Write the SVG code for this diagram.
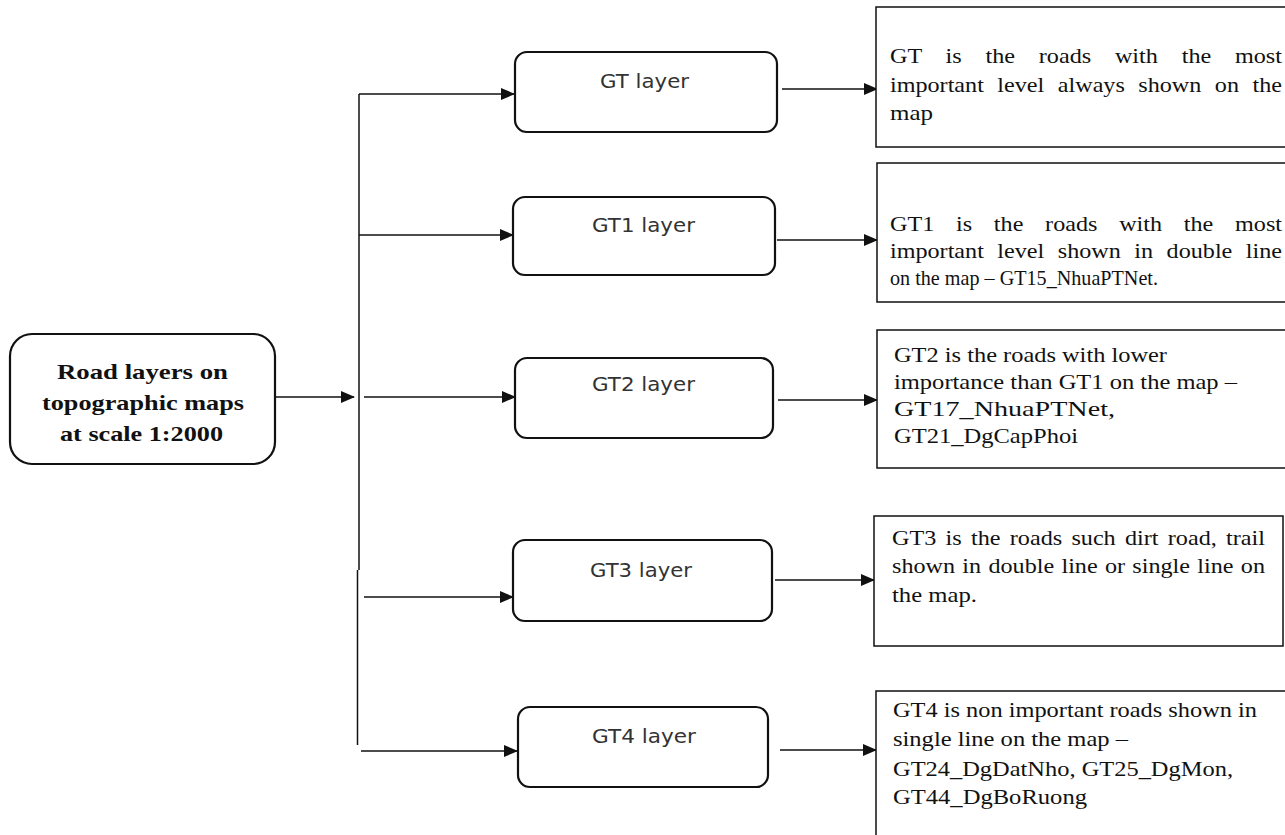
<svg xmlns="http://www.w3.org/2000/svg" width="1285" height="835" viewBox="0 0 1285 835">
<style>
.layer{fill:#fff;stroke:#111;stroke-width:2.2}
.desc{fill:#fff;stroke:#111;stroke-width:1.5}
.conn{stroke:#111;stroke-width:1.5;fill:none}
.lt{font-family:"DejaVu Sans",Verdana,sans-serif;font-size:19px;fill:#333}
.st{font-family:"Liberation Serif","Times New Roman",serif;font-size:21px;fill:#111}
.mt{font-family:"Liberation Serif","Times New Roman",serif;font-size:21px;font-weight:bold;fill:#111}
</style>
<defs>
<marker id="ah" markerUnits="userSpaceOnUse" markerWidth="14" markerHeight="12" refX="13" refY="6" orient="auto">
<path d="M0,0 L14,6 L0,12 Z" fill="#111"/>
</marker>
</defs>
<rect width="1285" height="835" fill="#fff"/>
<g id="connectors">
<line class="conn" x1="275" y1="397" x2="354" y2="397" marker-end="url(#ah)"/>
<line class="conn" x1="359" y1="94" x2="359" y2="570"/>
<line class="conn" x1="357.5" y1="570" x2="357.5" y2="745"/>
<line class="conn" x1="359" y1="94" x2="514" y2="94" marker-end="url(#ah)"/>
<line class="conn" x1="359" y1="235" x2="513" y2="235" marker-end="url(#ah)"/>
<line class="conn" x1="364" y1="397" x2="515" y2="397" marker-end="url(#ah)"/>
<line class="conn" x1="364" y1="597" x2="513" y2="597" marker-end="url(#ah)"/>
<line class="conn" x1="361" y1="751" x2="517" y2="751" marker-end="url(#ah)"/>
<line class="conn" x1="782" y1="89" x2="877" y2="89" marker-end="url(#ah)"/>
<line class="conn" x1="777" y1="240" x2="877" y2="240" marker-end="url(#ah)"/>
<line class="conn" x1="778" y1="400" x2="877" y2="400" marker-end="url(#ah)"/>
<line class="conn" x1="775" y1="580" x2="874" y2="580" marker-end="url(#ah)"/>
<line class="conn" x1="780" y1="750" x2="876" y2="750" marker-end="url(#ah)"/>
</g>
<g id="root">
<rect class="layer" x="10" y="334" width="265" height="130" rx="22"/>
<text class="mt" x="57" y="379" textLength="171" lengthAdjust="spacingAndGlyphs">Road layers on</text>
<text class="mt" x="42" y="410" textLength="202" lengthAdjust="spacingAndGlyphs">topographic maps</text>
<text class="mt" x="60" y="441" textLength="163" lengthAdjust="spacingAndGlyphs">at scale 1:2000</text>
</g>
<g id="gt-layer">
<rect class="layer" x="515" y="52" width="262" height="80" rx="12"/>
<text class="lt" x="600" y="88" textLength="89" lengthAdjust="spacingAndGlyphs">GT layer</text>
</g>
<g id="gt1-layer">
<rect class="layer" x="513" y="197" width="262" height="78" rx="12"/>
<text class="lt" x="592" y="232" textLength="103" lengthAdjust="spacingAndGlyphs">GT1 layer</text>
</g>
<g id="gt2-layer">
<rect class="layer" x="515" y="358" width="258" height="80" rx="12"/>
<text class="lt" x="592" y="391" textLength="103" lengthAdjust="spacingAndGlyphs">GT2 layer</text>
</g>
<g id="gt3-layer">
<rect class="layer" x="513" y="540" width="259" height="81" rx="12"/>
<text class="lt" x="590" y="577" textLength="102" lengthAdjust="spacingAndGlyphs">GT3 layer</text>
</g>
<g id="gt4-layer">
<rect class="layer" x="518" y="707" width="250" height="80" rx="12"/>
<text class="lt" x="592" y="743" textLength="104" lengthAdjust="spacingAndGlyphs">GT4 layer</text>
</g>
<g id="gt-desc">
<rect class="desc" x="876" y="7" width="420" height="140"/>
<text class="st" x="890" y="63" textLength="392" lengthAdjust="spacingAndGlyphs" word-spacing="15.4">GT is the roads with the most</text>
<text class="st" x="890" y="92" textLength="392" lengthAdjust="spacingAndGlyphs" word-spacing="6.5">important level always shown on the</text>
<text class="st" x="890" y="120" textLength="43" lengthAdjust="spacingAndGlyphs">map</text>
</g>
<g id="gt1-desc">
<rect class="desc" x="877" y="163" width="420" height="139"/>
<text class="st" x="890" y="231" textLength="392" lengthAdjust="spacingAndGlyphs" word-spacing="13.7">GT1 is the roads with the most</text>
<text class="st" x="890" y="258" textLength="392" lengthAdjust="spacingAndGlyphs" word-spacing="6.5">important level shown in double line</text>
<text class="st" x="890" y="285" textLength="268" lengthAdjust="spacingAndGlyphs">on the map – GT15_NhuaPTNet.</text>
</g>
<g id="gt2-desc">
<rect class="desc" x="877" y="330" width="420" height="138"/>
<text class="st" x="894" y="362" textLength="273" lengthAdjust="spacingAndGlyphs">GT2 is the roads with lower</text>
<text class="st" x="894" y="389" textLength="343" lengthAdjust="spacingAndGlyphs">importance than GT1 on the map –</text>
<text class="st" x="894" y="416" textLength="221" lengthAdjust="spacingAndGlyphs">GT17_NhuaPTNet,</text>
<text class="st" x="894" y="443" textLength="184" lengthAdjust="spacingAndGlyphs">GT21_DgCapPhoi</text>
</g>
<g id="gt3-desc">
<rect class="desc" x="874" y="516" width="409" height="130"/>
<text class="st" x="892" y="545" textLength="373" lengthAdjust="spacingAndGlyphs" word-spacing="2.8">GT3 is the roads such dirt road, trail</text>
<text class="st" x="892" y="573" textLength="373" lengthAdjust="spacingAndGlyphs" word-spacing="1.1">shown in double line or single line on</text>
<text class="st" x="892" y="602" textLength="85" lengthAdjust="spacingAndGlyphs">the map.</text>
</g>
<g id="gt4-desc">
<rect class="desc" x="876" y="691" width="420" height="200"/>
<text class="st" x="893" y="717" textLength="364" lengthAdjust="spacingAndGlyphs">GT4 is non important roads shown in</text>
<text class="st" x="893" y="746" textLength="235" lengthAdjust="spacingAndGlyphs">single line on the map –</text>
<text class="st" x="893" y="776" textLength="340" lengthAdjust="spacingAndGlyphs">GT24_DgDatNho, GT25_DgMon,</text>
<text class="st" x="893" y="804" textLength="194" lengthAdjust="spacingAndGlyphs">GT44_DgBoRuong</text>
</g>
</svg>
